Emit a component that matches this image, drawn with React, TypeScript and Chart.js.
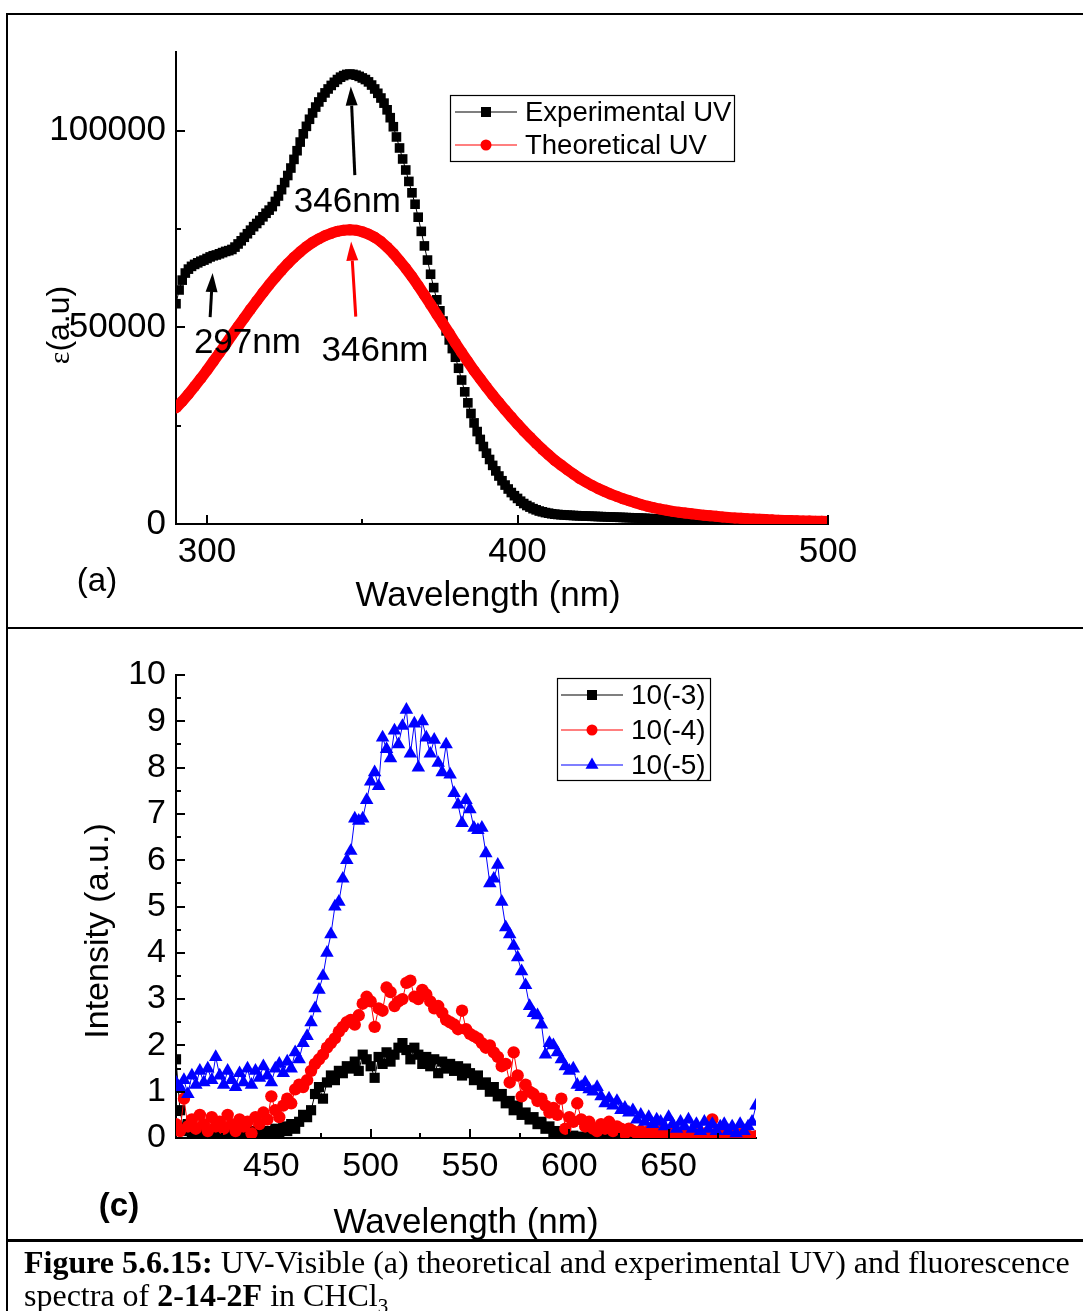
import React, { useEffect, useRef } from 'react';
import { Chart, registerables } from 'chart.js';

Chart.register(...registerables);

const SANS = '"Liberation Sans", Arial, Helvetica, sans-serif';
const SERIF = '"Liberation Serif", "Times New Roman", serif';

// ---------------- Panel (a): UV-Visible ----------------
const UV_EXP_START = 290; // nm
const UV_EXP_STEP = 1; // nm
const uvExperimental = [
  56000, 59500, 62000, 63800, 64800, 65500, 66000, 66400, 66800, 67100,
  67500, 67900, 68200, 68400, 68700, 69000, 69300, 69500, 69800, 70400,
  71200, 72000, 72900, 73800, 74700, 75600, 76400, 77200, 78100, 79000,
  79800, 80700, 82000, 83400, 85000, 86800, 88600, 90500, 92700, 94900,
  97100, 99200, 101100, 102900, 104500, 106000, 107300, 108500, 109600, 110600,
  111500, 112300, 113000, 113600, 114000, 114300, 114400, 114300, 114100, 113800,
  113400, 113000, 112400, 111600, 110600, 109500, 108300, 107000, 105300, 103300,
  101000, 98400, 95600, 92800, 90000, 87100, 84200, 81300, 78000, 74400,
  70700, 67100, 63500, 60100, 57000, 54200, 51600, 49100, 46800, 44600,
  42400, 39600, 36600, 33600, 30800, 28100, 25700, 23500, 21500, 19700,
  18000, 16400, 14900, 13500, 12200, 11000, 9900, 8900, 8000, 7200,
  6500, 5800, 5200, 4700, 4300, 3900, 3600, 3300, 3100, 2900,
  2750, 2600, 2500, 2420, 2350, 2300, 2250, 2200, 2160, 2120,
  2080, 2050, 2020, 1990, 1960, 1930, 1900, 1870, 1840, 1810,
  1780, 1750, 1720, 1690, 1660, 1630, 1600, 1570, 1540, 1510,
  1480, 1440, 1400, 1360, 1320, 1280, 1240, 1200, 1160, 1120,
  1080, 1040, 1000, 960, 920, 880, 850, 820, 790, 760,
  730, 700, 680, 660, 640, 620, 600, 580, 560, 540,
  520, 500, 485, 470, 455, 440, 425, 410, 395, 380,
  370, 360, 350, 340, 330, 320, 310, 300, 290, 280,
  270, 260, 250, 240, 230, 220, 210, 200, 190, 180,
  170,
];

const UV_THEO_START = 290; // nm
const UV_THEO_STEP = 2; // nm
const uvTheoretical = [
  29500, 31200, 33000, 35000, 37000, 39100, 41300, 43500, 45700, 48000,
  50200, 52400, 54600, 56700, 58800, 60800, 62700, 64500, 66200, 67800,
  69200, 70500, 71600, 72500, 73300, 73900, 74400, 74700, 74800, 74700,
  74300, 73700, 72900, 71800, 70400, 68800, 66900, 65000, 62900, 60600,
  58200, 55800, 53300, 50900, 48500, 46000, 43600, 41300, 39000, 36900,
  34800, 32800, 30900, 29000, 27200, 25400, 23700, 22100, 20500, 19000,
  17600, 16200, 15000, 13800, 12700, 11600, 10700, 9800, 9000, 8300,
  7600, 7000, 6400, 5900, 5400, 4900, 4500, 4100, 3800, 3500,
  3200, 3000, 2800, 2600, 2400, 2250, 2100, 1950, 1800, 1650,
  1550, 1450, 1350, 1270, 1200, 1120, 1050, 980, 920, 870,
  820, 780, 740, 700, 670, 640,
];

const uvSeriesNames = ['Experimental UV', 'Theoretical UV'];
const uvXMin = 290;
const uvXMax = 500;
const uvYMin = 0;
const uvYMax = 120000;
const uvXTicks = [300, 400, 500];
const uvXMinorTicks = [350, 450];
const uvYTicks = [0, 50000, 100000];
const uvYMinorTicks = [25000, 75000];

// peak annotations, in data coordinates (nm, epsilon)
const uvArrows = [
  { from: [347.6, 88700], to: [346.3, 111200], color: '#000000' },
  { from: [301.0, 52600], to: [301.8, 63800], color: '#000000' },
  { from: [347.9, 52700], to: [346.4, 71800], color: '#ff0000' },
];
const uvNotes = [
  { text: '346nm', at: [345.2, 81800] },
  { text: '297nm', at: [313.0, 45900] },
  { text: '346nm', at: [354.1, 44000] },
];

// ---------------- Panel (c): Fluorescence ----------------
const FL_START = 402; // nm
const FL_STEP = 2; // nm
const flSeriesNames = ['10(-3)', '10(-4)', '10(-5)'];
const fl3 = [
  1.70, 0.60, 0.15, 0.30, 0.10, 0.20, 0.05, 0.25, 0.10, 0.15,
  0.05, 0.20, 0.10, 0.02, 0.15, 0.05, 0.20, 0.10, 0.05, 0.15,
  0.02, 0.10, 0.05, 0.15, 0.10, 0.20, 0.05, 0.25, 0.15, 0.30,
  0.20, 0.35, 0.50, 0.45, 0.60, 0.95, 1.10, 0.85, 1.20, 1.35,
  1.25, 1.45, 1.40, 1.55, 1.50, 1.65, 1.45, 1.80, 1.70, 1.55,
  1.30, 1.75, 1.60, 1.85, 1.65, 1.80, 1.95, 2.05, 1.90, 1.70,
  1.95, 1.80, 1.60, 1.75, 1.55, 1.70, 1.40, 1.65, 1.50, 1.60,
  1.45, 1.55, 1.35, 1.50, 1.40, 1.25, 1.35, 1.15, 1.20, 1.00,
  1.10, 0.90, 0.95, 0.75, 0.80, 0.60, 0.70, 0.50, 0.55, 0.40,
  0.45, 0.30, 0.35, 0.20, 0.25, 0.10, 0.15, 0.05, 0.10, 0.02,
  0.05, 0.00, 0.03, 0.00, 0.04, 0.00, 0.02, 0.00, 0.03, 0.01,
  0.00, 0.02, 0.00, 0.03, 0.00, 0.01, 0.00, 0.02, 0.00, 0.01,
  0.00, 0.02, 0.00, 0.01, 0.00, 0.02, 0.00, 0.01, 0.00, 0.02,
  0.00, 0.01, 0.00, 0.00, 0.02, 0.00, 0.01, 0.00, 0.02, 0.00,
  0.01, 0.00, 0.00, 0.01, 0.00, 0.00, 0.01,
];
const fl4 = [
  0.30, 0.15, 0.85, 0.25, 0.40, 0.20, 0.50, 0.30, 0.15, 0.45,
  0.25, 0.35, 0.20, 0.50, 0.30, 0.15, 0.40, 0.25, 0.35, 0.10,
  0.45, 0.30, 0.55, 0.40, 0.90, 0.60, 0.45, 0.70, 0.85, 0.75,
  1.05, 1.15, 1.10, 1.25, 1.45, 1.60, 1.70, 1.80, 1.95, 2.05,
  2.15, 2.30, 2.40, 2.50, 2.55, 2.45, 2.65, 2.90, 3.05, 2.95,
  2.40, 2.80, 2.75, 3.25, 3.15, 2.85, 2.95, 3.00, 3.35, 3.40,
  3.05, 3.00, 3.20, 3.10, 2.95, 2.80, 2.85, 2.70, 2.55, 2.50,
  2.45, 2.35, 2.75, 2.35, 2.25, 2.20, 2.15, 2.05, 1.95, 2.00,
  1.85, 1.75, 1.55, 1.60, 1.20, 1.85, 1.35, 0.90, 1.15, 1.00,
  0.95, 0.80, 0.85, 0.70, 0.55, 0.65, 0.50, 0.85, 0.20, 0.45,
  0.35, 0.75, 0.40, 0.25, 0.35, 0.20, 0.15, 0.30, 0.20, 0.35,
  0.15, 0.25, 0.20, 0.10, 0.20, 0.15, 0.10, 0.15, 0.05, 0.15,
  0.10, 0.05, 0.15, 0.10, 0.05, 0.10, 0.05, 0.10, 0.05, 0.10,
  0.05, 0.08, 0.05, 0.10, 0.05, 0.40, 0.10, 0.05, 0.15, 0.05,
  0.10, 0.02, 0.08, 0.03, 0.05, 0.02, 0.04,
];
const fl5 = [
  1.20, 1.10, 1.25, 0.95, 1.35, 1.15, 1.45, 1.20, 1.50, 1.25,
  1.75, 1.35, 1.15, 1.45, 1.25, 1.10, 1.40, 1.20, 1.50, 1.15,
  1.45, 1.30, 1.55, 1.35, 1.20, 1.50, 1.60, 1.40, 1.65, 1.50,
  1.85, 1.70, 2.05, 2.20, 2.50, 2.80, 3.20, 3.50, 4.00, 4.40,
  5.00, 5.10, 5.60, 6.00, 6.20, 6.90, 6.85, 6.90, 7.30, 7.70,
  7.90, 7.60, 8.65, 8.40, 8.20, 8.80, 8.50, 8.90, 9.25, 8.30,
  8.95, 8.00, 9.00, 8.65, 8.30, 8.60, 8.10, 7.90, 8.50, 7.85,
  7.45, 7.20, 6.80, 7.30, 7.10, 6.70, 6.65, 6.70, 6.15, 5.50,
  5.60, 5.90, 5.10, 4.55, 4.40, 4.15, 3.90, 3.60, 3.30, 2.85,
  2.70, 2.65, 2.45, 1.80, 2.05, 2.00, 1.85, 1.70, 1.55, 1.45,
  1.50, 1.15, 1.10, 1.20, 1.05, 1.00, 1.10, 0.90, 0.75, 0.85,
  0.70, 0.80, 0.60, 0.65, 0.55, 0.60, 0.40, 0.50, 0.35, 0.45,
  0.30, 0.40, 0.35, 0.25, 0.45, 0.30, 0.20, 0.35, 0.25, 0.40,
  0.20, 0.30, 0.15, 0.35, 0.20, 0.30, 0.15, 0.25, 0.30, 0.15,
  0.25, 0.10, 0.30, 0.15, 0.25, 0.35, 0.70,
];
const flXMin = 402;
const flXMax = 694;
const flYMin = 0;
const flYMax = 10;
const flXTicks = [450, 500, 550, 600, 650];
const flXMinorTicks = [425, 475, 525, 575, 625, 675];
const flYTicks = [0, 1, 2, 3, 4, 5, 6, 7, 8, 9, 10];
const flYMinorTicks = [0.5, 1.5, 2.5, 3.5, 4.5, 5.5, 6.5, 7.5, 8.5, 9.5];

// ---------------- drawing helpers ----------------
function toPoints(values: number[], start: number, step: number) {
  return values.map((v, i) => ({ x: start + i * step, y: v }));
}

function drawInwardTicks(chart: any, xMajor: number[], xMinor: number[], yMajor: number[], yMinor: number[], majorLen: number, minorLen: number) {
  const ctx = chart.ctx;
  const a = chart.chartArea;
  const xs = chart.scales.x;
  const ys = chart.scales.y;
  ctx.save();
  ctx.strokeStyle = '#000';
  ctx.lineWidth = 2;
  ctx.beginPath();
  const xt = (vals: number[], len: number) => vals.forEach((v) => {
    const p = Math.round(xs.getPixelForValue(v));
    ctx.moveTo(p, a.bottom);
    ctx.lineTo(p, a.bottom - len);
  });
  const yt = (vals: number[], len: number) => vals.forEach((v) => {
    const p = Math.round(ys.getPixelForValue(v));
    ctx.moveTo(a.left, p);
    ctx.lineTo(a.left + len, p);
  });
  xt(xMajor, majorLen);
  xt(xMinor, minorLen);
  yt(yMajor, majorLen);
  yt(yMinor, minorLen);
  ctx.stroke();
  ctx.restore();
}

function drawArrow(ctx: CanvasRenderingContext2D, x1: number, y1: number, x2: number, y2: number, color: string, lw: number, headLen: number, headW: number) {
  const ang = Math.atan2(y2 - y1, x2 - x1);
  const bx = x2 - headLen * Math.cos(ang);
  const by = y2 - headLen * Math.sin(ang);
  ctx.strokeStyle = color;
  ctx.lineWidth = lw;
  ctx.beginPath();
  ctx.moveTo(x1, y1);
  ctx.lineTo(bx, by);
  ctx.stroke();
  ctx.fillStyle = color;
  ctx.beginPath();
  ctx.moveTo(x2, y2);
  ctx.lineTo(bx + (headW / 2) * Math.sin(ang), by - (headW / 2) * Math.cos(ang));
  ctx.lineTo(bx - (headW / 2) * Math.sin(ang), by + (headW / 2) * Math.cos(ang));
  ctx.closePath();
  ctx.fill();
}

function drawMarker(ctx: CanvasRenderingContext2D, style: string, x: number, y: number, r: number, color: string) {
  ctx.fillStyle = color;
  ctx.beginPath();
  if (style === 'rect') {
    ctx.rect(x - r, y - r, 2 * r, 2 * r);
  } else if (style === 'circle') {
    ctx.arc(x, y, r, 0, Math.PI * 2);
  } else {
    ctx.moveTo(x, y - r);
    ctx.lineTo(x + r * 0.866, y + r * 0.5);
    ctx.lineTo(x - r * 0.866, y + r * 0.5);
    ctx.closePath();
  }
  ctx.fill();
}

type LegendItem = { label: string; color: string; style: string; size: number };
type LegendSpec = { box: number[]; rows: number[]; lineX: number[]; markerX: number; textX: number; font: string; items: LegendItem[] };

function drawLegend(ctx: CanvasRenderingContext2D, spec: LegendSpec) {
  const [bx, by, bw, bh] = spec.box;
  ctx.save();
  ctx.fillStyle = '#fff';
  ctx.fillRect(bx, by, bw, bh);
  ctx.strokeStyle = '#000';
  ctx.lineWidth = 1.2;
  ctx.strokeRect(bx + 0.5, by + 0.5, bw, bh);
  spec.items.forEach((it, i) => {
    const y = spec.rows[i];
    ctx.strokeStyle = it.color;
    ctx.lineWidth = 1.2;
    ctx.beginPath();
    ctx.moveTo(spec.lineX[0], y);
    ctx.lineTo(spec.lineX[1], y);
    ctx.stroke();
    drawMarker(ctx, it.style, spec.markerX, y, it.size, it.color);
    ctx.fillStyle = '#000';
    ctx.font = spec.font;
    ctx.textAlign = 'left';
    ctx.textBaseline = 'middle';
    ctx.fillText(it.label, spec.textX, y + 1);
  });
  ctx.restore();
}

function drawRotatedParts(ctx: CanvasRenderingContext2D, cx: number, cy: number, parts: { text: string; font: string }[], baselineOffset: number) {
  ctx.save();
  ctx.translate(cx, cy);
  ctx.rotate(-Math.PI / 2);
  const widths = parts.map((p) => {
    ctx.font = p.font;
    return ctx.measureText(p.text).width;
  });
  const total = widths.reduce((s, w) => s + w, 0);
  let x = -total / 2;
  ctx.fillStyle = '#000';
  ctx.textAlign = 'left';
  ctx.textBaseline = 'alphabetic';
  parts.forEach((p, i) => {
    ctx.font = p.font;
    ctx.fillText(p.text, x, baselineOffset);
    x += widths[i];
  });
  ctx.restore();
}

function axisBase(min: number, max: number, ticks: number[], fontSize: number, padding: number, isX: boolean, fitSize: number) {
  return {
    type: 'linear',
    min,
    max,
    grid: { display: false, drawTicks: false },
    border: { display: true, color: '#000', width: 2 },
    ticks: {
      color: '#000',
      font: { family: SANS, size: fontSize },
      padding,
      autoSkip: false,
      maxRotation: 0,
      minRotation: 0,
      callback: (v: any) => String(v),
    },
    afterBuildTicks: (s: any) => {
      s.ticks = ticks.map((value) => ({ value }));
    },
    afterFit: (s: any) => {
      if (isX) s.height = fitSize;
      else s.width = fitSize;
    },
  };
}

// ---------------- chart configs ----------------
const uvPlugin = {
  id: 'uvExtras',
  afterDraw(chart: any) {
    const ctx = chart.ctx as CanvasRenderingContext2D;
    const xs = chart.scales.x;
    const ys = chart.scales.y;
    drawInwardTicks(chart, uvXTicks, uvXMinorTicks, uvYTicks, uvYMinorTicks, 9, 5);
    ctx.save();
    uvArrows.forEach((a) => drawArrow(
      ctx,
      xs.getPixelForValue(a.from[0]), ys.getPixelForValue(a.from[1]),
      xs.getPixelForValue(a.to[0]), ys.getPixelForValue(a.to[1]),
      a.color, 3, 19, 12,
    ));
    ctx.fillStyle = '#000';
    ctx.font = `35px ${SANS}`;
    ctx.textAlign = 'center';
    ctx.textBaseline = 'middle';
    uvNotes.forEach((n) => ctx.fillText(n.text, xs.getPixelForValue(n.at[0]), ys.getPixelForValue(n.at[1])));
    ctx.fillText('Wavelength (nm)', 488, 596);
    ctx.font = `33px ${SANS}`;
    ctx.fillText('(a)', 97, 582);
    drawRotatedParts(ctx, 58, 325, [
      { text: 'ε', font: `30px ${SERIF}` },
      { text: '(a.u)', font: `32px ${SANS}` },
    ], 11);
    ctx.restore();
    drawLegend(ctx, {
      box: [450, 95, 284, 66],
      rows: [112, 145],
      lineX: [455, 517],
      markerX: 486,
      textX: 525,
      font: `27.5px ${SANS}`,
      items: [
        { label: uvSeriesNames[0], color: '#000000', style: 'rect', size: 5 },
        { label: uvSeriesNames[1], color: '#ff0000', style: 'circle', size: 5.5 },
      ],
    });
  },
};

const makeUvConfig = (): any => ({
  type: 'line',
  data: {
    datasets: [
      {
        label: uvSeriesNames[0],
        data: toPoints(uvExperimental, UV_EXP_START, UV_EXP_STEP),
        borderColor: '#000000',
        backgroundColor: '#000000',
        borderWidth: 1,
        pointStyle: 'rect',
        pointRadius: 6.8,
        pointBorderWidth: 0,
        pointBackgroundColor: '#000000',
        order: 2,
      },
      {
        label: uvSeriesNames[1],
        data: toPoints(uvTheoretical, UV_THEO_START, UV_THEO_STEP),
        borderColor: '#ff0000',
        backgroundColor: '#ff0000',
        borderWidth: 11,
        borderJoinStyle: 'round',
        pointStyle: 'circle',
        pointRadius: 5.5,
        pointBorderWidth: 0,
        pointBackgroundColor: '#ff0000',
        order: 1,
      },
    ],
  },
  options: {
    responsive: false,
    maintainAspectRatio: false,
    animation: false,
    events: [],
    layout: { padding: { left: 0, top: 52, right: 1083 - 828, bottom: 0 } },
    plugins: { legend: { display: false }, tooltip: { enabled: false }, title: { display: false } },
    scales: {
      x: axisBase(uvXMin, uvXMax, uvXTicks, 35, 7, true, 627 - 524),
      y: axisBase(uvYMin, uvYMax, uvYTicks, 35, 10, false, 176),
    },
  },
  plugins: [uvPlugin],
});

const flPlugin = {
  id: 'flExtras',
  afterDraw(chart: any) {
    const ctx = chart.ctx as CanvasRenderingContext2D;
    drawInwardTicks(chart, flXTicks, flXMinorTicks, flYTicks, flYMinorTicks, 9, 5);
    ctx.save();
    ctx.fillStyle = '#000';
    ctx.textAlign = 'center';
    ctx.textBaseline = 'middle';
    ctx.font = `35px ${SANS}`;
    ctx.fillText('Wavelength (nm)', 466, 593);
    ctx.font = `bold 33px ${SANS}`;
    ctx.fillText('(c)', 119, 577);
    drawRotatedParts(ctx, 96, 301, [{ text: 'Intensity (a.u.)', font: `34px ${SANS}` }], 12);
    ctx.restore();
    drawLegend(ctx, {
      box: [557, 48, 153, 102],
      rows: [65, 100, 135],
      lineX: [561, 623],
      markerX: 592,
      textX: 631,
      font: `28px ${SANS}`,
      items: [
        { label: flSeriesNames[0], color: '#000000', style: 'rect', size: 5 },
        { label: flSeriesNames[1], color: '#ff0000', style: 'circle', size: 5.5 },
        { label: flSeriesNames[2], color: '#0000ff', style: 'triangle', size: 7.5 },
      ],
    });
  },
};

const flDataset = (label: string, values: number[], color: string, style: string, radius: number, order: number) => ({
  label,
  data: toPoints(values, FL_START, FL_STEP),
  borderColor: color,
  backgroundColor: color,
  borderWidth: 1,
  pointStyle: style,
  pointRadius: radius,
  pointBorderWidth: 0,
  pointBackgroundColor: color,
  order,
});

const makeFlConfig = (): any => ({
  type: 'line',
  data: {
    datasets: [
      flDataset(flSeriesNames[0], fl3, '#000000', 'rect', 7.2, 3),
      flDataset(flSeriesNames[1], fl4, '#ff0000', 'circle', 6.2, 2),
      flDataset(flSeriesNames[2], fl5, '#0000ff', 'triangle', 7.8, 1),
    ],
  },
  options: {
    responsive: false,
    maintainAspectRatio: false,
    animation: false,
    events: [],
    layout: { padding: { left: 0, top: 45, right: 1083 - 756, bottom: 0 } },
    plugins: { legend: { display: false }, tooltip: { enabled: false }, title: { display: false } },
    scales: {
      x: axisBase(flXMin, flXMax, flXTicks, 34, 8, true, 609 - 508),
      y: axisBase(flYMin, flYMax, flYTicks, 34, 10, false, 176),
    },
  },
  plugins: [flPlugin],
});

// ---------------- React components ----------------
function ChartCanvas(props: { make: () => any; left: number; top: number; width: number; height: number }) {
  const ref = useRef<HTMLCanvasElement | null>(null);
  useEffect(() => {
    if (!ref.current) return undefined;
    const chart = new Chart(ref.current, props.make());
    return () => chart.destroy();
  }, [props.make]);
  return (
    <canvas
      ref={ref}
      width={props.width}
      height={props.height}
      style={{ position: 'absolute', left: props.left, top: props.top, width: props.width, height: props.height, display: 'block' }}
    />
  );
}

const line = (left: number, top: number, width: number, height: number) => (
  <div style={{ position: 'absolute', left, top, width, height, background: '#000' }} />
);

export default function App() {
  return (
    <div style={{ position: 'absolute', left: 0, top: 0, width: 1083, height: 1311, background: '#fff', overflow: 'hidden' }}>
      <ChartCanvas make={makeUvConfig} left={0} top={0} width={1083} height={627} />
      <ChartCanvas make={makeFlConfig} left={0} top={630} width={1083} height={609} />
      {line(6, 13, 1077, 2)}
      {line(6, 13, 2, 1298)}
      {line(6, 627, 1077, 2)}
      {line(6, 1239, 1077, 3)}
      <div
        style={{
          position: 'absolute',
          left: 24,
          top: 1246,
          fontFamily: SERIF,
          fontSize: 32,
          lineHeight: '33px',
          whiteSpace: 'nowrap',
          color: '#000',
        }}
      >
        <b>Figure 5.6.15:</b> UV-Visible (a) theoretical and experimental UV) and fluorescence
        <br />
        spectra of <b>2-14-2F</b> in CHCl
        <span style={{ fontSize: 21, position: 'relative', top: 7, lineHeight: 0 }}>3</span>
      </div>
    </div>
  );
}
